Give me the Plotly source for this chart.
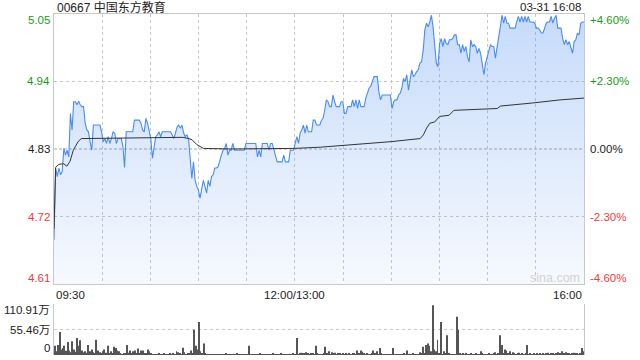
import plotly.graph_objects as go

# ---------------- data ----------------
prev_close = 4.83
price_seg_a = [
    4.682, 4.799, 4.785, 4.799, 4.788, 4.793, 4.831, 4.820, 4.828, 4.817,
    4.888, 4.861, 4.907, 4.907, 4.902, 4.908, 4.902, 4.899, 4.899, 4.872,
    4.861, 4.858, 4.842, 4.828, 4.869, 4.869, 4.869, 4.869, 4.869, 4.858,
    4.842, 4.847, 4.839, 4.850, 4.839, 4.847, 4.858, 4.856, 4.839, 4.847,
    4.847, 4.847, 4.834, 4.800, 4.858, 4.858, 4.858, 4.858, 4.858, 4.877,
    4.877, 4.877, 4.877, 4.872, 4.861, 4.858, 4.880, 4.872, 4.861, 4.847,
    4.815, 4.834, 4.850, 4.853, 4.858, 4.850, 4.858, 4.858, 4.858, 4.858,
    4.858, 4.858, 4.853, 4.847, 4.856, 4.866, 4.869, 4.864, 4.869, 4.856,
    4.850, 4.853,
]
price_seg_b = [
    4.847, 4.817, 4.782, 4.809, 4.779, 4.769, 4.763, 4.750, 4.763, 4.779,
    4.769, 4.758, 4.779, 4.769, 4.785, 4.788, 4.799, 4.799, 4.801, 4.812,
    4.820, 4.828, 4.831, 4.839, 4.820, 4.828, 4.828, 4.839, 4.828, 4.828,
    4.828, 4.828, 4.828, 4.828, 4.828, 4.839, 4.839, 4.839, 4.839, 4.839,
    4.839, 4.839, 4.817, 4.828, 4.817, 4.839, 4.839, 4.839, 4.839, 4.828,
    4.839, 4.839, 4.828, 4.820, 4.809, 4.809, 4.809, 4.809, 4.820, 4.809,
    4.809, 4.809, 4.828, 4.828, 4.828, 4.839, 4.850, 4.839, 4.856, 4.861,
    4.869, 4.856, 4.869, 4.858, 4.858, 4.858, 4.877, 4.877, 4.869, 4.869,
]
price_seg_c = [
    4.869, 4.877, 4.880, 4.894, 4.910, 4.907, 4.899, 4.899, 4.918, 4.907,
    4.899, 4.899, 4.899, 4.907, 4.907, 4.888, 4.888, 4.899, 4.899, 4.899,
    4.910, 4.899, 4.910, 4.896, 4.910, 4.899, 4.899, 4.899, 4.913, 4.921,
    4.929, 4.932, 4.942, 4.948, 4.948, 4.948, 4.923, 4.910, 4.918, 4.918,
    4.918, 4.918, 4.918, 4.918, 4.896, 4.907, 4.910, 4.910, 4.918, 4.921,
    4.929, 4.945, 4.940, 4.951, 4.926, 4.945, 4.959, 4.948, 4.951, 4.956,
    4.959, 4.970, 4.972, 4.991, 5.024, 5.035, 5.029, 5.037, 5.048, 5.029,
    4.997, 4.970, 4.964, 5.002, 5.010, 4.997, 5.010, 5.002, 5.000, 5.008,
    5.008,
]
price_seg_d = [
    5.010, 5.016, 5.016, 5.000, 5.000, 4.986, 5.000, 4.989, 4.997, 4.980,
    4.972, 5.008, 4.997, 5.000, 4.997, 4.986, 4.994, 4.986, 4.970, 4.951,
    4.970, 4.980, 4.991, 5.000, 4.997, 4.997, 4.978, 4.994, 5.008, 5.029,
    5.048, 5.035, 5.046, 5.035, 5.035, 5.027, 5.027, 5.027, 5.027, 5.037,
    5.046, 5.037, 5.046, 5.037, 5.046, 5.037, 5.046, 5.037, 5.037, 5.037,
    5.035, 5.027, 5.027, 5.024, 5.019, 5.019, 5.027, 5.035, 5.037, 5.037,
    5.046, 5.035, 5.043, 5.048, 5.027, 5.027, 5.027, 5.010, 5.000, 5.008,
    5.000, 5.005, 4.997, 4.986, 5.005, 5.008, 5.019, 5.016, 5.035, 5.037,
    5.037,
]
prices = price_seg_a + price_seg_b + price_seg_c + price_seg_d
session_minutes = 330  # 09:30-12:00 + 13:00-16:00
price_minutes = [i * session_minutes / (len(prices) - 1) for i in range(len(prices))]

avg_minutes = [0, 1, 3, 6, 8, 10, 12, 15, 17, 40, 60, 80, 84, 86, 89, 91, 93, 110,
               130, 150, 166, 190, 210, 228, 230, 232, 234, 237, 240, 246, 249,
               276, 278, 298, 315, 330]
avg_values = [4.700, 4.800, 4.805, 4.806, 4.802, 4.810, 4.828, 4.842, 4.847, 4.848,
              4.848, 4.849, 4.847, 4.845, 4.837, 4.834, 4.831, 4.830, 4.830, 4.831,
              4.833, 4.838, 4.842, 4.847, 4.853, 4.864, 4.872, 4.874, 4.883, 4.885,
              4.893, 4.896, 4.900, 4.905, 4.910, 4.913]

volume_wan = [
    20, 8, 22, 50, 12, 15, 20, 9, 28, 10,
    6, 30, 12, 7, 37, 20, 32, 10, 6, 8,
    5, 22, 8, 12, 6, 4, 33, 10, 6, 4,
    8, 12, 5, 20, 4, 8, 3, 18, 15, 10,
    8, 3, 2, 4, 3, 22, 5, 10, 3, 8,
    10, 4, 14, 3, 10, 10, 4, 3, 12, 8,
    3, 2, 2, 1, 2, 3, 1, 2, 3, 2,
    1, 2, 3, 2, 4, 2, 8, 6, 3, 2,
    16, 6, 2, 3, 4, 10, 4, 55, 20, 12,
    72, 8, 4, 25, 3, 2, 2, 1, 2, 1,
    1, 2, 1, 2, 1, 1, 2, 3, 1, 2,
    1, 2, 1, 1, 3, 1, 2, 1, 1, 2,
    1, 20, 2, 1, 1, 2, 1, 2, 3, 1,
    1, 2, 1, 2, 1, 2, 3, 1, 1, 2,
    2, 4, 1, 2, 1, 2, 2, 1, 1, 3,
    2, 37, 2, 3, 5, 4, 3, 6, 4, 2,
    4, 3, 2, 20, 3, 2, 1, 2, 4, 18,
    3, 8, 2, 6, 3, 5, 2, 3, 4, 2,
    3, 2, 4, 2, 3, 2, 4, 3, 2, 10,
    4, 10, 7, 3, 2, 3, 2, 2, 4, 10,
    3, 8, 2, 15, 3, 2, 2, 1, 2, 1,
    2, 15, 2, 1, 2, 1, 2, 1, 3, 2,
    10, 2, 1, 2, 3, 2, 2, 1, 6, 3,
    18, 4, 22, 25, 20, 8, 108, 12, 8, 33,
    3, 72, 2, 8, 3, 43, 3, 2, 1, 2,
    2, 83, 55, 3, 2, 3, 2, 3, 2, 2,
    3, 2, 2, 3, 2, 2, 8, 3, 2, 1,
    2, 3, 2, 2, 3, 6, 2, 3, 43, 22,
    4, 12, 10, 3, 8, 2, 6, 3, 2, 4,
    5, 2, 3, 2, 3, 22, 2, 3, 2, 4,
    2, 3, 2, 4, 2, 3, 2, 3, 5, 2,
    3, 4, 2, 3, 6, 3, 4, 8, 3, 6,
    3, 4, 2, 3, 5, 3, 4, 2, 3, 15,
    8,
]
volume_minutes = list(range(len(volume_wan)))

price_ticks = [5.05, 4.94, 4.83, 4.72, 4.61]
pct_labels = ["+4.60%", "+2.30%", "0.00%", "-2.30%", "-4.60%"]
vol_ticks = [110.91, 55.46, 0]
vol_labels = ["110.91万", "55.46万", "0"]
time_labels = ["09:30", "12:00/13:00", "16:00"]
time_label_minutes = [0, 150, 330]
title_text = "00667 中国东方教育"
stamp_text = "03-31 16:08"

# ---------------- style ----------------
W, H = 640, 360
FONT = "Liberation Sans, Arial, Noto Sans CJK SC, sans-serif"
GREEN = "#1a9a1a"
RED = "#f03a3a"
BLACK = "#222222"
GRID = "#c8c8c8"
BORDER = "#c8c8c8"

x0p, x1p = 54 / W, 584 / W
main_dom = [1 - 284 / H, 1 - 14 / H]
vol_dom = [1 - 355 / H, 1 - 304 / H]

fig = go.Figure()

fig.add_trace(go.Scatter(
    x=price_minutes, y=prices, mode="lines",
    line=dict(color="#4a8cf0", width=1.1),
    fill="tozeroy",
    fillgradient=dict(type="vertical",
                      colorscale=[[0, "rgba(77,142,240,0.05)"], [1, "rgba(77,142,240,0.32)"]],
                      start=4.61, stop=5.05),
    hoverinfo="skip", xaxis="x", yaxis="y",
))
fig.add_trace(go.Scatter(
    x=avg_minutes, y=avg_values, mode="lines",
    line=dict(color="#333333", width=1),
    hoverinfo="skip", xaxis="x", yaxis="y",
))
fig.add_trace(go.Bar(
    x=volume_minutes, y=volume_wan, width=0.6,
    marker=dict(color="#555555", line=dict(width=0)),
    hoverinfo="skip", xaxis="x2", yaxis="y2",
))

grid_minutes = list(range(30, 330, 30))
fig.update_layout(
    width=W, height=H,
    margin=dict(l=0, r=0, t=0, b=0),
    paper_bgcolor="white", plot_bgcolor="white",
    showlegend=False,
    font=dict(family=FONT, size=11, color=BLACK),
    xaxis=dict(domain=[x0p, x1p], range=[0, session_minutes], anchor="y",
               tickvals=grid_minutes, showticklabels=False, ticks="",
               showgrid=True, gridcolor=GRID, griddash="dot", gridwidth=1,
               showline=True, mirror=True, linecolor=BORDER, linewidth=1,
               zeroline=False, fixedrange=True),
    yaxis=dict(domain=main_dom, range=[4.61, 5.05], anchor="x",
               tickvals=[4.72, 4.94], showticklabels=False, ticks="",
               showgrid=True, gridcolor=GRID, griddash="dot", gridwidth=1,
               showline=True, mirror=True, linecolor=BORDER, linewidth=1,
               zeroline=False, fixedrange=True),
    xaxis2=dict(domain=[x0p, x1p], range=[-0.5, session_minutes + 0.5], anchor="y2",
                showticklabels=False, ticks="", showgrid=False,
                showline=False, zeroline=False, fixedrange=True),
    yaxis2=dict(domain=vol_dom, range=[0, 110.91], anchor="x2",
                tickvals=[55.46, 110.91], showticklabels=False, ticks="",
                showgrid=True, gridcolor=GRID, griddash="dot", gridwidth=1,
                showline=True, mirror=True, linecolor=BORDER, linewidth=1,
                zeroline=False, fixedrange=True),
)

# previous-close reference line
fig.add_shape(type="line", xref="x", yref="y", x0=0, x1=session_minutes,
              y0=prev_close, y1=prev_close, layer="between",
              line=dict(color="#a8a8a8", width=1, dash="3px,2px"))

ann = []
colors = [GREEN, GREEN, BLACK, RED, RED]
shifts = [-6, 0, 0, 0, 6]
for v, c, s, p in zip(price_ticks, colors, shifts, pct_labels):
    ann.append(dict(x=52 / W, xref="paper", y=v, yref="y", text=f"{v:.2f}",
                    xanchor="right", yanchor="middle", yshift=s, showarrow=False,
                    font=dict(color=c, size=11.5)))
    ann.append(dict(x=588 / W, xref="paper", y=v, yref="y", text=p,
                    xanchor="left", yanchor="middle", yshift=s, showarrow=False,
                    font=dict(color=c, size=11.5)))
vshifts = [-6, 0, 7]
for v, t, s in zip(vol_ticks, vol_labels, vshifts):
    ann.append(dict(x=52 / W, xref="paper", y=v, yref="y2", text=t,
                    xanchor="right", yanchor="middle", yshift=s, showarrow=False,
                    font=dict(color=BLACK, size=11.5)))
anchors = ["left", "center", "right"]
for m, t, a in zip(time_label_minutes, time_labels, anchors):
    ann.append(dict(x=m, xref="x", y=1 - 295 / H, yref="paper", text=t,
                    xanchor=a, yanchor="middle", showarrow=False,
                    font=dict(color=BLACK, size=11.5)))
ann.append(dict(x=55 / W, xref="paper", y=1 - 7 / H, yref="paper", text=title_text,
                xanchor="left", yanchor="middle", showarrow=False,
                font=dict(color=BLACK, size=12)))
ann.append(dict(x=583 / W, xref="paper", y=1 - 7 / H, yref="paper", text=stamp_text,
                xanchor="right", yanchor="middle", showarrow=False,
                font=dict(color=BLACK, size=11.5)))
ann.append(dict(x=582 / W, xref="paper", y=1 - 278 / H, yref="paper", text="sina.com",
                xanchor="right", yanchor="middle", showarrow=False,
                font=dict(color="#d2d2d2", size=12.5)))
fig.update_layout(annotations=ann)

fig.write_html("out.html")
